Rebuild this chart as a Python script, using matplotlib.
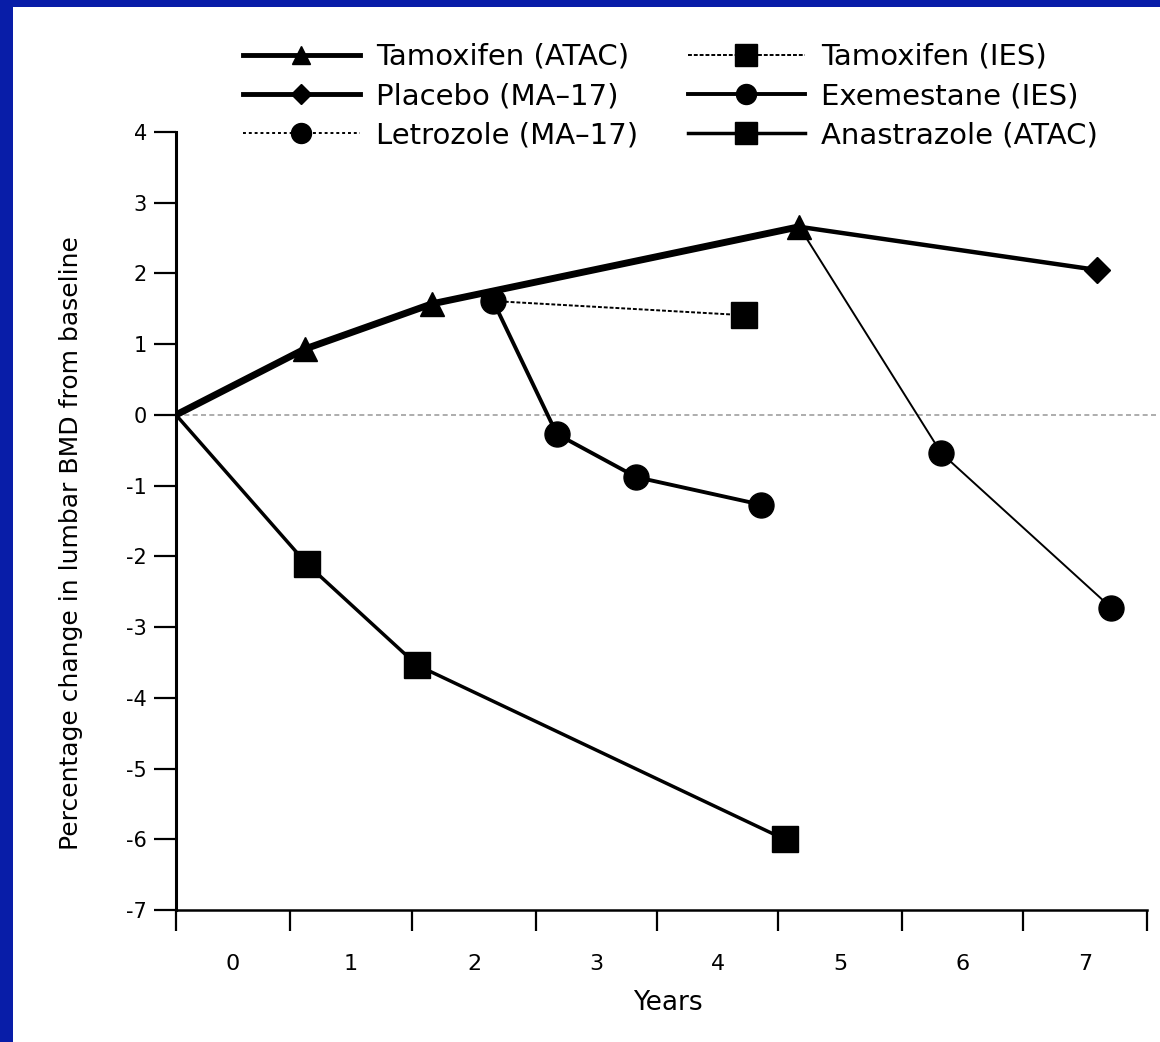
import matplotlib
matplotlib.use('Agg')
import matplotlib.pyplot as plt
from matplotlib.patches import Rectangle
from matplotlib.lines import Line2D

plt.rcParams['font.family'] = ['DejaVu Sans']

# years since start of treatment, % change in lumbar BMD
tam_atac_x = [0, 1.05, 2.09, 5.09]
tam_atac_y = [0, 0.93, 1.57, 2.66]
placebo_x = [5.09, 7.52]
placebo_y = [2.66, 2.05]
letro_x = [5.09, 6.25, 7.64]
letro_y = [2.66, -0.54, -2.73]
tam_ies_x = [2.59, 4.64]
tam_ies_y = [1.61, 1.41]
exem_x = [2.59, 3.11, 3.76, 4.78]
exem_y = [1.61, -0.27, -0.88, -1.27]
anas_x = [0, 1.07, 1.97, 4.97]
anas_y = [0, -2.11, -3.54, -6.0]

year_labels = ['0', '1', '2', '3', '4', '5', '6', '7']
year_bounds = [0, 0.93, 1.93, 2.94, 3.93, 4.92, 5.93, 6.92, 7.93]
y_ticks = list(range(-7, 5))

W, H = 1160, 1042
fig = plt.figure(figsize=(W / 100, H / 100), dpi=100)
fig.patch.set_facecolor('#081DA8')
fig.patches.append(Rectangle((13 / W, 0), 1 - 13 / W, 1 - 7 / H,
                             transform=fig.transFigure, facecolor='white',
                             edgecolor='none', zorder=-10))

ax = fig.add_axes([176 / W, 1 - 910 / H, (1147 - 176) / W, (910 - 132) / H])
ax.set_facecolor('none')
ax.set_xlim(0, 7.93)
ax.set_ylim(-7, 4)

ax.axhline(0, xmin=0, xmax=1.012, color='#a0a0a0', lw=1.2,
           ls=(0, (3, 2)), clip_on=False, zorder=1)

k = '#000000'
series = [
    # label, x, y, lw, ls, marker, ms, markevery
    ('Tamoxifen (ATAC)', tam_atac_x, tam_atac_y, 5.0, '-', '^', 17, [1, 2, 3]),
    ('Placebo (MA–17)', placebo_x, placebo_y, 3.2, '-', 'D', 13, [1]),
    ('Letrozole (MA–17)', letro_x, letro_y, 1.4, '-', 'o', 18, [1, 2]),
    ('Tamoxifen (IES)', tam_ies_x, tam_ies_y, 1.4, (0, (2, 1)), 's', 19, [1]),
    ('Exemestane (IES)', exem_x, exem_y, 2.8, '-', 'o', 18, None),
    ('Anastrazole (ATAC)', anas_x, anas_y, 2.5, '-', 's', 19, [1, 2, 3]),
]
handles = []
for i, (lbl, xs, ys, lw, ls, mk, ms, me) in enumerate(series):
    ax.plot(xs, ys, color=k, lw=lw, ls=ls, marker=mk, ms=ms, markevery=me,
            zorder=5 if i == 0 else 4)
    leg_ls = (0, (1.5, 1.5)) if lbl.startswith('Letrozole') else ls
    leg_lw = 3.5 if lw > 3 else max(lw, 1.2)
    handles.append(Line2D([], [], color=k, lw=leg_lw, ls=leg_ls, marker=mk,
                          ms=ms * 0.8, label=lbl))

for s in ['top', 'right']:
    ax.spines[s].set_visible(False)
ax.spines['left'].set_linewidth(2.2)
ax.spines['bottom'].set_linewidth(1.8)

ax.set_yticks(y_ticks)
ax.set_yticklabels([str(v) for v in y_ticks])
ax.tick_params(axis='y', length=16, width=1.6, pad=5, labelsize=15)

ax.set_xticks(year_bounds)
ax.set_xticklabels([])
mids = [(a + b) / 2 for a, b in zip(year_bounds[:-1], year_bounds[1:])]
ax.set_xticks(mids, minor=True)
ax.set_xticklabels(year_labels, minor=True)
ax.tick_params(axis='x', which='major', length=15, width=1.6)
ax.tick_params(axis='x', which='minor', length=0, pad=32, labelsize=16)

fig.text(668 / W, 1 - 1003 / H, 'Years', ha='center', va='center', fontsize=19)
fig.text(71 / W, 1 - 543 / H, 'Percentage change in lumbar BMD from baseline',
         rotation=90, ha='center', va='center', fontsize=18)

leg_kw = dict(loc='upper left', frameon=False, fontsize=21, borderpad=0,
              borderaxespad=0, handlelength=4.0, handletextpad=0.55,
              labelspacing=0.38, numpoints=1)
leg1 = fig.legend(handles[:3], [h.get_label() for h in handles[:3]],
                  bbox_to_anchor=(243 / W, 1 - 43 / H), **leg_kw)
leg2 = fig.legend(handles[3:], [h.get_label() for h in handles[3:]],
                  bbox_to_anchor=(688 / W, 1 - 43 / H), **leg_kw)

fig.savefig('out.png', dpi=100, facecolor=fig.get_facecolor())
